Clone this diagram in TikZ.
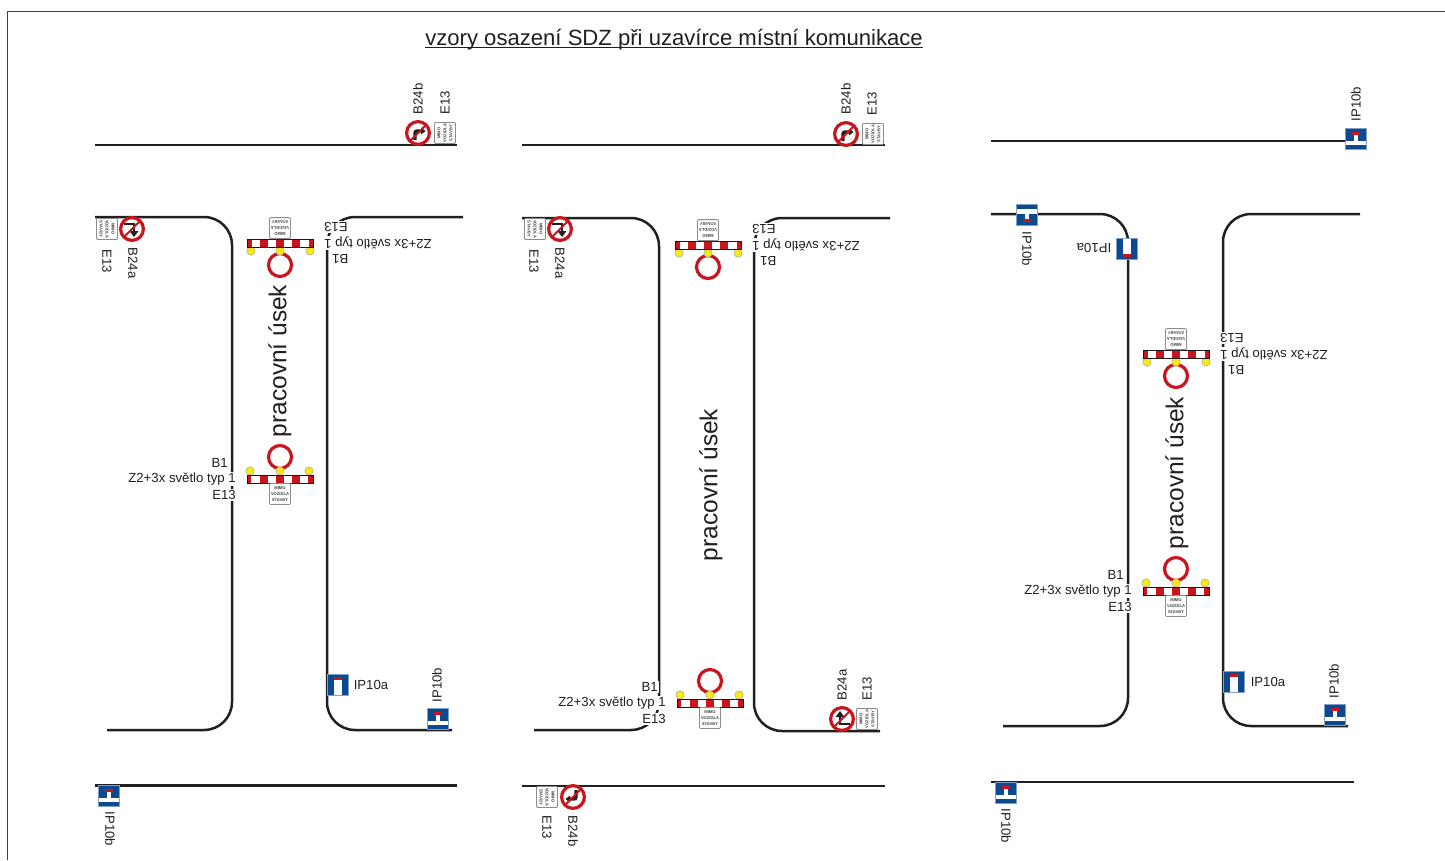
\documentclass[tikz,border=0pt]{standalone}
\usepackage{fontspec}
\setmainfont{Liberation Sans}
\definecolor{roadc}{HTML}{231F20}
\definecolor{redc}{HTML}{C8161E}
\definecolor{bluec}{HTML}{0B4A90}
\definecolor{blueb}{HTML}{7F9FC8}
\definecolor{yelc}{HTML}{F5EA14}
\tikzset{
  road/.style={draw=roadc,line width=2.5pt,rounded corners=28pt},
  flatroad/.style={draw=roadc,line width=2.5pt},
  lab/.style={font=\fontsize{13.2}{15}\selectfont,text=roadc,inner sep=0pt},
  masklab/.style={lab,fill=white,inner xsep=1.5pt,inner ysep=1pt,transform shape},
  bigt/.style={font=\fontsize{24.5}{28}\selectfont,text=roadc,inner sep=0pt},
  ring/.style={draw=redc,line width=3.2pt,fill=white},
  plate/.style={draw=black!45,fill=white,line width=.8pt,rounded corners=1pt,minimum size=21pt,inner sep=0pt,align=center,text=black!75,font=\fontsize{4.1}{6}\selectfont\bfseries},
  lamp/.style={draw=black!35,fill=yelc,line width=.5pt},
  tsign/.style={fill=bluec,draw=blueb,line width=1.2pt},
}
% barrier: name, x, y, angle
\newcommand{\barrierset}[4]{%
\begin{scope}[shift={(#2,#3)},rotate=#4]
  \filldraw[ring] (0,-22) circle (11.5);
  \foreach \lx in {-30,0,29}{\filldraw[lamp] (\lx,-8) circle (4.2);}
  \fill[white] (-33,-4) rectangle (33,4);
  \foreach \sx in {-33,-20,-4,12,28}{%
    \pgfmathsetmacro{\ex}{\sx==-33?-29:(\sx==28?33:\sx+8)}
    \fill[redc] (\sx,-4) rectangle (\ex,4);}
  \draw[roadc!70!black,line width=.8pt] (-33,-4) rectangle (33,4);
  \node[plate,transform shape,anchor=north] (#1p) at (0,4) {MIMO\\VOZIDLA\\STAVBY};
  \node[masklab,anchor=east] (#1a) at (-50.5,-16) {B1};
  \node[masklab,anchor=east] (#1b) at (-42.5,0) {Z2+3x světlo typ 1};
  \node[masklab,anchor=east] (#1c) at (-42.5,16) {E13};
\end{scope}}
% prohibition signs: x, y, angle
\newcommand{\signa}[3]{%
\begin{scope}[shift={(#1,#2)},rotate=#3]
  \filldraw[ring] (0,0) circle (11.4);
  \draw[roadc,line width=2.8pt] (8,5) -- (-2,5) -- (-2,-2);
  \fill[roadc] (-6.5,-2) -- (2.5,-2) -- (-2,-8) -- cycle;
  \draw[redc,line width=2pt] (-8,8) -- (8,-8);
\end{scope}}
\newcommand{\signb}[3]{%
\begin{scope}[shift={(#1,#2)},rotate=#3]
  \filldraw[ring] (0,0) circle (11.4);
  \draw[roadc,line width=3.4pt,rounded corners=2pt] (-3,7) -- (-3,-2) -- (5,-2);
  \fill[roadc] (3,-5.5) -- (3,1.5) -- (7.5,-2) -- cycle;
  \draw[redc,line width=2pt] (-8,8) -- (8,-8);
\end{scope}}
% information signs
\newcommand{\ipa}[3]{%
\begin{scope}[shift={(#1,#2)},rotate=#3]
  \filldraw[tsign] (-10.5,-10.5) rectangle (10.5,10.5);
  \fill[white] (-3.8,-5) rectangle (3.8,10);
  \fill[redc] (-4.2,-8) rectangle (4.2,-5);
\end{scope}}
\newcommand{\ipb}[3]{%
\begin{scope}[shift={(#1,#2)},rotate=#3]
  \filldraw[tsign] (-10.5,-10.5) rectangle (10.5,10.5);
  \fill[white] (-10,1.5) rectangle (10,6);
  \fill[white] (-1.6,-5) rectangle (1.6,2);
  \fill[redc] (-4,-7) rectangle (4,-4);
\end{scope}}
\begin{document}
\begin{tikzpicture}[x=1pt,y=-1pt]
\useasboundingbox (0,0) rectangle (1445,860);
\fill[white] (0,0) rectangle (1445,860);
\draw[black!75,line width=1pt] (7,860) -- (7,11) -- (1445,11);
\node[font=\fontsize{22.1}{26}\selectfont,text=roadc,inner sep=0pt] (title) at (674,40) {vzory osazení SDZ při uzavírce místní komunikace};
\draw[roadc,line width=1pt] (title.south west |- 0,47.8) -- (title.south east |- 0,47.8);

% panel 1 roads
\draw[flatroad] (95,145) -- (457,145);
\draw[road] (95,217) -- (232,217) -- (232,730) -- (107,730);
\draw[road] (463,217) -- (327,217) -- (327,730) -- (452,730);
\draw[flatroad] (95,785.5) -- (457,785.5);
% panel 2 roads
\draw[flatroad] (522,145) -- (885,145);
\draw[road] (522,218) -- (659,218) -- (659,730) -- (534,730);
\draw[road] (890,218) -- (754,218) -- (754,731) -- (880,731);
\draw[flatroad] (522,786) -- (885,786);
% panel 3 roads
\draw[flatroad] (991,141) -- (1360,141);
\draw[road] (991,214) -- (1128,214) -- (1128,726) -- (1003,726);
\draw[road] (1360,214) -- (1223,214) -- (1223,726) -- (1348,726);
\draw[flatroad] (991,782) -- (1354,782);

% panel 1
\node[bigt,rotate=90] (u1) at (280,361) {pracovní úsek};
\barrierset{ba}{280}{479}{0}
\barrierset{bb}{280}{243}{180}
\signb{418}{133}{0}
\node[plate,rotate=90] (p1) at (445,133) {MIMO\\VOZIDLA\\STAVBY};
\node[lab,rotate=90] (t1) at (418,99) {B24b};
\node[lab,rotate=90] (t2) at (445,103) {E13};
\signa{132}{229}{180}
\node[plate,rotate=-90] (p2) at (107,229) {MIMO\\VOZIDLA\\STAVBY};
\node[lab,rotate=-90] (t3) at (133,263) {B24a};
\node[lab,rotate=-90] (t4) at (107,261) {E13};
\ipa{338}{685}{0}
\node[lab] (t5) at (371,685) {IP10a};
\ipb{438}{719}{0}
\node[lab,rotate=90] (t6) at (437,685) {IP10b};
\ipb{109}{796}{0}
\node[lab,rotate=-90] (t7) at (110,829) {IP10b};

% panel 2
\node[bigt,rotate=90] (u2) at (711,485) {pracovní úsek};
\barrierset{bc}{710}{703}{0}
\barrierset{bd}{708}{245}{180}
\signb{846}{134}{0}
\node[plate,rotate=90] (p3) at (873,134) {MIMO\\VOZIDLA\\STAVBY};
\node[lab,rotate=90] (t8) at (846,99) {B24b};
\node[lab,rotate=90] (t9) at (872,104) {E13};
\signa{560}{229}{180}
\node[plate,rotate=-90] (p4) at (535,229) {MIMO\\VOZIDLA\\STAVBY};
\node[lab,rotate=-90] (t10) at (560,263) {B24a};
\node[lab,rotate=-90] (t11) at (534,261) {E13};
\signa{842}{719}{0}
\node[plate,rotate=90] (p5) at (867,719) {MIMO\\VOZIDLA\\STAVBY};
\node[lab,rotate=90] (t12) at (842,685) {B24a};
\node[lab,rotate=90] (t13) at (867,689) {E13};
\signb{573}{797}{180}
\node[plate,rotate=-90] (p6) at (547,797) {MIMO\\VOZIDLA\\STAVBY};
\node[lab,rotate=-90] (t14) at (573,831) {B24b};
\node[lab,rotate=-90] (t15) at (547,827) {E13};

% panel 3
\node[bigt,rotate=90] (u3) at (1177,473) {pracovní úsek};
\barrierset{be}{1176}{591}{0}
\barrierset{bf}{1176}{354}{180}
\ipb{1356}{139}{0}
\node[lab,rotate=90] (t16) at (1356,104) {IP10b};
\ipb{1027}{215}{180}
\node[lab,rotate=-90] (t17) at (1027,249) {IP10b};
\ipa{1127}{249}{180}
\node[lab,rotate=180] (t18) at (1094,248) {IP10a};
\ipa{1234}{682}{0}
\node[lab] (t19) at (1268,682) {IP10a};
\ipb{1335}{715}{0}
\node[lab,rotate=90] (t20) at (1334,681) {IP10b};
\ipb{1006}{793}{0}
\node[lab,rotate=-90] (t21) at (1006,826) {IP10b};
\end{tikzpicture}
\end{document}
